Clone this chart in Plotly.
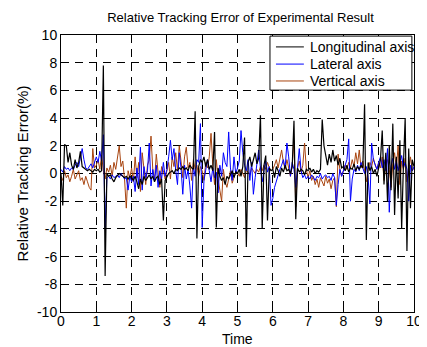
import plotly.graph_objects as go

# sample times (regular grid, 0.05 step, 0..10)
time = [round(i * 0.05, 2) for i in range(201)]

longitudinal = [
    0.0, -2.3, 2.1, 2.0, 0.8, 1.5, 0.6, 0.3, 1.0, 0.4, 0.8, 1.6, 0.5, 0.4, 0.3, 0.2, 0.3, 0.2, 0.1, 0.3,
    0.2, 0.3, 0.1, 0.2, 7.8, -7.4, 0.0, -0.2, -0.1, -0.4, -0.6, -0.3, -0.1, 0.0, -0.1, -0.2, -0.3, -0.2, -0.4, -0.2,
    -0.3, -0.5, -0.2, -0.6, -1.1, -0.4, -0.8, -0.2, -0.5, -0.3, -0.1, -0.4, -0.2, -0.6, -0.3, -0.2, -0.8, -0.4, -3.4, -0.5,
    -0.2, 0.0, 0.1, 0.2, 0.0, 0.3, 0.2, 0.4, 0.3, 0.5, 0.3, 0.4, 0.2, 0.6, 0.4, 0.3, 4.5, -4.7, 0.5, 1.0,
    0.8, 1.2, 0.5, 1.0, 0.3, 0.6, 0.2, 3.0, -3.9, 0.4, -0.2, -0.5, -0.3, -0.8, -0.2, -0.4, -0.1, 0.2, -0.3, 0.1,
    0.0, 0.3, -0.2, 0.5, 2.6, -5.3, 0.8, 1.2, 0.5, 1.0, 1.5, 0.7, 1.1, 4.2, -4.0, 0.6, 1.3, -3.4, 0.4, 0.2,
    0.3, -0.3, 0.5, 0.2, -0.2, 0.4, 0.1, 0.6, 0.2, 0.3, 0.0, 0.5, 3.8, -3.3, 0.4, 0.1, 0.3, 0.2, -0.1, 0.3,
    0.2, 0.4, 0.1, 0.3, 0.0, 0.2, 0.1, 0.3, 3.9, 2.0, 1.2, 0.6, 1.4, 0.8, 1.7, 0.9, 1.3, 0.6, 1.1, 0.4,
    0.5, 0.2, 0.6, 0.1, 0.4, 0.3, 0.7, 0.2, 0.5, 0.3, 0.6, 0.4, 5.0, -4.8, 0.8, 0.2, 0.5, 0.0, 0.3, -0.2,
    0.4, 1.0, 3.1, -0.8, 1.5, -2.0, 2.0, -1.2, 3.6, -3.0, 1.2, -1.8, 2.4, -4.0, 0.6, 4.0, -5.6, 1.8, -2.5, 1.0, 0.5,
]

lateral = [
    0.3, 0.1, 0.5, 0.3, 0.4, 0.2, 0.4, 0.3, 0.6, 0.8, 0.5, 1.1, 1.8, 1.0, 0.4, 0.3, 0.5, 0.7, 0.4, 0.9,
    1.2, 0.8, 1.6, 0.9, 2.8, -3.9, -0.3, -0.2, -0.4, -0.1, -0.3, -0.2, -0.1, -0.3, 0.0, -0.2, -0.4, -0.3, -1.2, -0.2,
    -0.6, -0.2, -1.3, 0.4, -0.8, 1.9, -1.2, 0.5, -0.3, 0.2, 2.2, -0.9, 0.3, -0.5, 0.6, -1.0, 0.2, -0.4, 0.8, -0.2,
    0.3, 1.2, 2.4, 1.0, 1.8, 0.2, -0.8, 1.5, 0.4, -1.5, 0.6, -0.4, 0.3, -0.9, -2.5, 0.5, -0.2, 1.0, 0.8, 3.6,
    -3.9, -0.5, 0.3, 1.0, 0.2, -0.6, 0.4, -0.3, 0.1, -1.4, 0.6, -0.2, 1.5, 0.8, 0.5, 3.0, 0.4, -0.5, 1.2, 0.0,
    0.4, 0.9, 3.1, 1.5, 0.6, 0.2, 1.0, -0.5, 0.8, -1.5, -0.3, 0.7, 1.7, 0.4, -0.6, 0.2, 0.9, 0.1, 0.5, -2.3,
    -1.8, -1.0, -0.5, 0.0, 0.3, 0.6, 1.0, 0.4, 2.2, 1.2, -0.2, 0.8, 0.3, -1.0, 0.5, 1.8, 0.2, -0.3, -0.1, -0.4,
    -0.2, -0.4, -0.1, -0.3, -0.5, -0.2, -0.3, 0.0, -0.4, -0.2, -0.1, -0.3, -0.2, -0.5, 0.0, -0.3, -2.3, -0.8, 0.3, -0.2,
    0.2, 0.5, 1.0, 2.5, -2.0, -0.4, 0.3, 0.1, 0.6, 0.2, 0.8, 0.4, 0.0, 0.5, -0.3, -2.2, 2.2, 1.0, 0.6, 0.3,
    0.8, 1.2, 0.4, 1.0, 0.2, 1.8, -2.8, 0.5, 1.1, 0.3, 0.9, 0.2, 0.7, 1.3, 0.4, 0.8, 0.3, -2.0, 0.6, 0.2, 0.5,
]

vertical = [
    -0.2, -0.5, 0.2, -0.3, -0.1, -0.6, -0.2, 0.3, -0.4, -0.1, 0.2, -0.5, -0.3, -0.8, -0.2, -0.6, -1.0, -1.2, 1.8, 0.4,
    0.6, 1.0, 0.3, 1.3, 0.2, -0.4, 0.4, 0.1, 0.6, -0.2, 0.8, 0.3, 1.2, 2.0, 0.5, 0.9, -0.4, -2.5, 0.2, -0.3,
    0.4, -0.6, 1.2, -0.3, 0.8, -1.3, 1.5, 0.2, -0.8, 0.6, 1.0, 2.7, 0.3, -0.5, 1.4, 0.1, -1.0, 0.5, 0.2, -0.4,
    0.3, 0.8, -0.4, 1.2, 0.5, 1.5, 0.2, 2.0, 0.9, -0.3, 1.2, 1.9, 0.4, 0.8, -0.5, 1.0, 0.3, 0.6, -0.2, 0.5,
    0.2, -0.5, 0.8, 0.4, 1.2, 2.9, 0.6, -0.8, 1.0, -0.4, -1.2, -2.0, 0.3, -0.6, -1.0, -0.3, 0.2, -0.7, -0.2, 0.1,
    0.1, -0.2, 0.3, 0.0, -0.3, 0.2, 0.1, -0.1, 0.4, 0.2, 0.0, 0.3, 0.1, 0.5, 0.2, 0.6, 0.3, 0.8, 0.4, 0.2,
    0.3, 0.6, 1.0, 0.4, 1.2, 1.7, 0.8, 0.3, 1.0, 0.5, -0.2, 0.6, 2.4, -2.4, 0.4, 0.9, 0.1, 0.6, 2.2, 0.3,
    -0.3, 0.2, -0.5, -0.2, -0.8, -0.4, -1.0, -0.3, -0.6, -0.9, -0.2, -0.7, -0.4, -1.1, -0.5, -0.3, -2.4, 1.4, 0.3, -0.2,
    0.2, 0.6, 0.3, 0.8, 0.4, 1.0, 0.5, 1.5, 0.7, 1.7, 0.4, 0.9, 0.2, -0.6, 0.3, 0.8, 0.5, 1.1, 0.6, 0.3,
    0.8, 0.4, 1.2, -0.5, 0.6, 1.0, 0.3, -1.0, 0.7, 1.5, 0.4, 2.0, -0.8, 0.9, 0.3, 1.1, -0.6, 0.5, 1.2, 0.2, 0.4,
]

series_names = ["Longitudinal axis", "Lateral axis", "Vertical axis"]
series_colors = ["#000000", "#0000FF", "#A8440F"]
series_widths = [1.2, 1.0, 1.0]

x_ticks = list(range(0, 11))
y_ticks = list(range(-10, 11, 2))

FONT = "Liberation Sans, Arial, Helvetica"

# the page body has an 8px margin, so the figure is sized to the visible area
W, H = 419, 339

fig = go.Figure()
series = list(zip(series_names, [longitudinal, lateral, vertical], series_colors, series_widths))
# draw brown first, then blue, black on top
for name, vals, col, w in reversed(series):
    fig.add_trace(go.Scatter(x=time, y=vals, mode="lines", name=name,
                             line=dict(color=col, width=w), showlegend=False))

# legend box drawn in paper coordinates (styling only)
shapes = [dict(type="rect", xref="paper", yref="paper", x0=0.592, x1=0.994, y0=0.801, y1=0.996,
               line=dict(color="black", width=1), fillcolor="white", layer="above")]
annotations = []
row_y = [0.957, 0.895, 0.834]
for (name, _, col, w), ry in zip(series, row_y):
    shapes.append(dict(type="line", xref="paper", yref="paper", x0=0.609, x1=0.688, y0=ry, y1=ry,
                       line=dict(color=col, width=1), layer="above"))
    annotations.append(dict(xref="paper", yref="paper", x=0.700, y=ry, xanchor="left", yanchor="middle",
                            text=name, showarrow=False,
                            font=dict(family=FONT, size=14, color="black")))

# x-axis title placed as an annotation just under the tick labels
annotations.append(dict(xref="paper", yref="paper", x=0.5, y=-0.098, xanchor="center", yanchor="middle",
                        text="Time", showarrow=False, borderpad=0,
                        font=dict(family=FONT, size=14, color="black")))

axis_common = dict(
    showline=True, linecolor="black", linewidth=1, mirror="ticks",
    ticks="inside", ticklen=4, tickcolor="black", automargin=False,
    showgrid=True, gridcolor="black", gridwidth=1, griddash="8px,6px",
    zeroline=False, tickfont=dict(family=FONT, size=14, color="black"),
)

fig.update_layout(
    width=W, height=H,
    margin=dict(l=53, r=13, t=27, b=35, autoexpand=False),
    paper_bgcolor="white", plot_bgcolor="white",
    title=dict(text="Relative Tracking Error of Experimental Result", x=0.555, xanchor="center",
               y=1 - 9 / H, yanchor="middle",
               font=dict(family=FONT, size=13, color="black")),
    xaxis=dict(range=[0, 10], tickvals=x_ticks, ticktext=[str(v) for v in x_ticks],
               ticklabelstandoff=-4, **axis_common),
    yaxis=dict(range=[-10, 10], tickvals=y_ticks, ticktext=[str(v) for v in y_ticks],
               title=dict(text="Relative Tracking Error(%)", standoff=4,
                          font=dict(family=FONT, size=15, color="black")),
               **axis_common),
    shapes=shapes,
    annotations=annotations,
    showlegend=False,
    hovermode=False,
)

fig.write_html("out.html")
